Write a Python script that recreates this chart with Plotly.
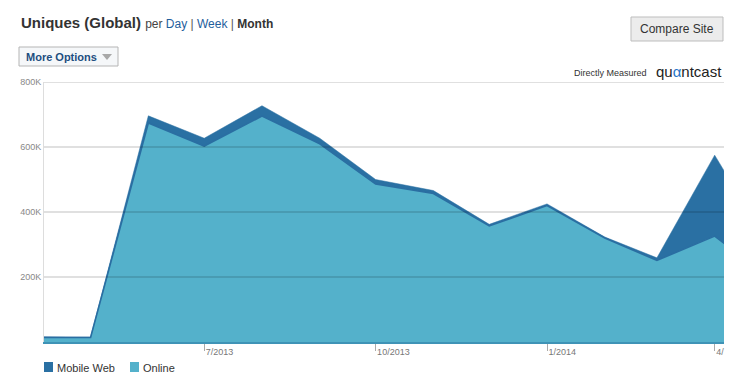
import plotly.graph_objects as go

# ---- data ----
months = ["2013-04-01", "2013-05-01", "2013-06-01", "2013-07-01", "2013-08-01",
          "2013-09-01", "2013-10-01", "2013-11-01", "2013-12-01", "2014-01-01",
          "2014-02-01", "2014-03-01", "2014-04-01", "2014-05-01"]
online = [14000, 14000, 674000, 603000, 695000, 610000, 486000, 457000,
          357000, 420000, 320000, 251000, 326000, 194000]
mobile_web = [2000, 1000, 22000, 24000, 32000, 17000, 14000, 9000,
              5000, 5000, 3000, 8000, 249000, 95000]
series_names = ["Mobile Web", "Online"]
x_tick_vals = ["2013-07-01", "2013-10-01", "2014-01-01", "2014-04-01"]
x_tick_text = ["7/2013", "10/2013", "1/2014", "4/"]
y_tick_vals = [200000, 400000, 600000, 800000]
y_tick_text = ["200K", "400K", "600K", "800K"]

ONLINE_FILL = "#54b1cb"
MOBILE_FILL = "#2a70a3"
LINE_DARK = "#2a6ea2"

W, H = 737, 383
L, R, T, B = 44, 13, 82, 41
PW, PH = W - L - R, H - T - B


def px(x):
    return (x - L) / PW


def py(y):
    return (H - B - y) / PH


fig = go.Figure()
fig.add_trace(go.Scatter(
    x=months, y=online, name="Online", stackgroup="s", mode="lines",
    line=dict(color=LINE_DARK, width=1.6), fillcolor=ONLINE_FILL,
    showlegend=False, hoverinfo="skip"))
fig.add_trace(go.Scatter(
    x=months, y=mobile_web, name="Mobile Web", stackgroup="s", mode="lines",
    line=dict(color=MOBILE_FILL, width=0.5), fillcolor=MOBILE_FILL,
    showlegend=False, hoverinfo="skip"))

FONT = "Liberation Sans, Arial, Helvetica, sans-serif"

shapes = []
for v in y_tick_vals:
    shapes.append(dict(type="line", xref="paper", yref="y", x0=0, x1=1, y0=v, y1=v,
                       line=dict(color="rgba(0,0,0,0.12)", width=2), layer="above"))
# Compare Site button
shapes.append(dict(type="rect", xref="paper", yref="paper",
                   x0=px(631), x1=px(723), y0=py(41), y1=py(17),
                   fillcolor="#ececec", line=dict(color="#bdbdbd", width=1), layer="above"))
# More Options button
shapes.append(dict(type="rect", xref="paper", yref="paper",
                   x0=px(19), x1=px(118), y0=py(66), y1=py(47),
                   fillcolor="#f5f7f9", line=dict(color="#b5b5b5", width=1), layer="above"))
shapes.append(dict(type="path", xref="paper", yref="paper",
                   path=f"M {px(102)} {py(54)} L {px(112)} {py(54)} L {px(107)} {py(60)} Z",
                   fillcolor="#a8a8a8", line=dict(width=0), layer="above"))

annotations = [
    dict(xref="paper", yref="paper", x=px(19), y=py(23), xanchor="left", yanchor="middle",
         showarrow=False, font=dict(family=FONT, size=15, color="#333333"),
         text="<b>Uniques (Global)</b> "
              "<span style='font-size:12px;color:#444444'>per </span>"
              "<span style='font-size:12px;color:#1f5e9c'>Day</span>"
              "<span style='font-size:12px;color:#555555'> | </span>"
              "<span style='font-size:12px;color:#1f5e9c'>Week</span>"
              "<span style='font-size:12px;color:#555555'> | </span>"
              "<span style='font-size:12px;color:#333333'><b>Month</b></span>"),
    dict(xref="paper", yref="paper", x=px(677), y=py(29), xanchor="center", yanchor="middle",
         showarrow=False, font=dict(family=FONT, size=12, color="#333333"),
         text="Compare Site"),
    dict(xref="paper", yref="paper", x=px(24), y=py(57), xanchor="left", yanchor="middle",
         showarrow=False, font=dict(family=FONT, size=11, color="#1d4e80"),
         text="<b>More Options</b>"),
    dict(xref="paper", yref="paper", x=px(649), y=py(73), xanchor="right", yanchor="middle",
         showarrow=False, font=dict(family=FONT, size=9, color="#333333"),
         text="Directly Measured"),
    dict(xref="paper", yref="paper", x=px(724), y=py(72), xanchor="right", yanchor="middle",
         showarrow=False, font=dict(family=FONT, size=15, color="#222222"),
         text="qu<span style='color:#1f74c8'>α</span>ntcast"),
]

# legend drawn as squares + labels
legend_colors = [MOBILE_FILL, ONLINE_FILL]
legend_x = [44, 130]
for name, col, lx in zip(series_names, legend_colors, legend_x):
    shapes.append(dict(type="rect", xref="paper", yref="paper",
                       x0=px(lx), x1=px(lx + 9), y0=py(372), y1=py(362),
                       fillcolor=col, line=dict(width=0), layer="above"))
    annotations.append(dict(xref="paper", yref="paper", x=px(lx + 11), y=py(367.5),
                            xanchor="left", yanchor="middle", showarrow=False,
                            font=dict(family=FONT, size=11, color="#333333"), text=name))

fig.update_layout(
    width=W, height=H, autosize=False,
    margin=dict(l=L, r=R, t=T, b=B, pad=0),
    paper_bgcolor="white", plot_bgcolor="white",
    font=dict(family=FONT, size=11, color="#333333"),
    shapes=shapes, annotations=annotations,
    showlegend=False,
    xaxis=dict(type="date", range=["2013-04-06", "2014-04-06"],
               tickmode="array", tickvals=x_tick_vals, ticktext=x_tick_text,
               ticks="outside", ticklen=7, tickcolor="#aaaaaa", tickwidth=1,
               ticklabelposition="outside right",
               tickfont=dict(family=FONT, size=9, color="#777777"),
               showgrid=False, zeroline=False,
               showline=True, linecolor="#3f93b6", linewidth=2, layer="above traces",
               fixedrange=True),
    yaxis=dict(range=[0, 800000], tickmode="array", tickvals=y_tick_vals, ticktext=y_tick_text,
               ticks="", tickfont=dict(family=FONT, size=9, color="#888888"),
               showgrid=False, zeroline=False,
               showline=True, linecolor="#dddddd", linewidth=1,
               fixedrange=True),
)

fig.write_html("out.html", config={"displayModeBar": False},
               post_script="document.body.style.margin='0';document.body.style.overflow='hidden';")
